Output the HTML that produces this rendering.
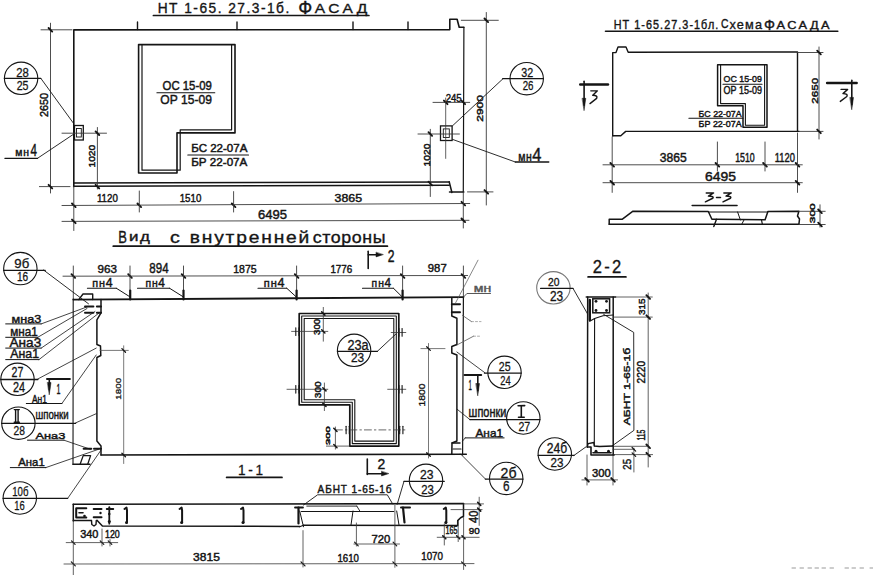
<!DOCTYPE html>
<html><head><meta charset="utf-8"><style>
html,body{margin:0;padding:0;background:#fff;}
body{width:873px;height:575px;overflow:hidden;}
svg{display:block;font-family:"Liberation Sans",sans-serif;}
</style></head><body>
<svg width="873" height="575" viewBox="0 0 873 575" stroke-linecap="round">
<rect width="873" height="575" fill="#fff"/>
<text x="157.7" y="13.2" font-size="13.91" textLength="133.03" lengthAdjust="spacingAndGlyphs" fill="#151515" font-weight="normal" stroke="#151515" stroke-width="0.35" letter-spacing="1.5">НТ 1-65. 27.3-1б.</text>
<text x="298.2" y="14.4" font-size="18.7" textLength="14.01" lengthAdjust="spacingAndGlyphs" fill="#151515" font-weight="normal" stroke="#151515" stroke-width="0.35">Ф</text>
<text x="314.7" y="13.4" font-size="13.48" textLength="56.1" lengthAdjust="spacingAndGlyphs" fill="#151515" font-weight="normal" stroke="#151515" stroke-width="0.35" letter-spacing="3">АСАД</text>
<line x1="153.4" y1="15.5" x2="368.9" y2="15.5" stroke="#151515" stroke-width="1.7"/>
<polyline points="73.8,186.6 73.8,29.9 449.8,29.6 449.8,19.3 457.1,19.3 459.2,27.3 463.9,27.3" fill="none" stroke="#151515" stroke-width="1.6" stroke-linejoin="round"/>
<line x1="463.9" y1="27.3" x2="463.3" y2="191.9" stroke="#151515" stroke-width="1.2"/>
<line x1="73.6" y1="183" x2="449.2" y2="181.9" stroke="#151515" stroke-width="1.5"/>
<line x1="73.6" y1="186.3" x2="449.2" y2="185.2" stroke="#151515" stroke-width="1.5"/>
<polyline points="449.2,181.7 451.9,192.5" fill="none" stroke="#151515" stroke-width="1.5" stroke-linejoin="round"/>
<line x1="449.5" y1="191.9" x2="463.8" y2="191.9" stroke="#151515" stroke-width="1.5"/>
<line x1="137.5" y1="22" x2="137.5" y2="29.5" stroke="#151515" stroke-width="1.4"/>
<line x1="237" y1="22" x2="237" y2="29.5" stroke="#151515" stroke-width="1.4"/>
<line x1="353" y1="22" x2="353" y2="29.5" stroke="#151515" stroke-width="1.4"/>
<line x1="408" y1="22" x2="408" y2="29.5" stroke="#151515" stroke-width="1.4"/>
<polygon points="138.6,44.6 235,44.6 235,132.9 177,132.9 177,173 138.6,173" fill="none" stroke="#151515" stroke-width="1.6" stroke-linejoin="round"/>
<polyline points="142,44.6 142,170.2 180.2,170.2 180.2,129.8 231.6,129.8 231.6,44.6" fill="none" stroke="#151515" stroke-width="1.2" stroke-linejoin="round"/>
<text x="162.6" y="89.68" font-size="11.97" textLength="49.24" lengthAdjust="spacingAndGlyphs" fill="#151515" font-weight="normal" stroke="#151515" stroke-width="0.45">ОС 15-09</text>
<line x1="156.9" y1="92.8" x2="214.8" y2="92.8" stroke="#151515" stroke-width="1.1"/>
<text x="160.3" y="104.37" font-size="12.68" textLength="51.6" lengthAdjust="spacingAndGlyphs" fill="#151515" font-weight="normal" stroke="#151515" stroke-width="0.45">ОР 15-09</text>
<text x="191.2" y="152.09" font-size="10.56" textLength="56.19" lengthAdjust="spacingAndGlyphs" fill="#151515" font-weight="normal" stroke="#151515" stroke-width="0.45">БС 22-07А</text>
<line x1="187.8" y1="155" x2="248.5" y2="155" stroke="#151515" stroke-width="1.1"/>
<text x="191.2" y="165.89" font-size="10.7" textLength="56.15" lengthAdjust="spacingAndGlyphs" fill="#151515" font-weight="normal" stroke="#151515" stroke-width="0.45">БР 22-07А</text>
<rect x="74.5" y="125.5" width="8.8" height="14.5" fill="none" stroke="#151515" stroke-width="1.3"/>
<rect x="76.5" y="128.5" width="4.8" height="8.5" fill="none" stroke="#151515" stroke-width="0.9"/>
<rect x="440.5" y="125.9" width="11.6" height="14.6" fill="none" stroke="#151515" stroke-width="1.3"/>
<rect x="443.3" y="128.9" width="6" height="8.6" fill="none" stroke="#151515" stroke-width="0.9"/>
<line x1="50.5" y1="23.2" x2="50.5" y2="193" stroke="#3a3a3a" stroke-width="0.9"/>
<line x1="41" y1="29.8" x2="72" y2="29.8" stroke="#3a3a3a" stroke-width="0.9"/>
<line x1="39.4" y1="186.6" x2="70" y2="186.6" stroke="#3a3a3a" stroke-width="0.9"/>
<line x1="48.6" y1="28" x2="52.2" y2="31.6" stroke="#151515" stroke-width="1.9"/>
<line x1="48.6" y1="184.8" x2="52.2" y2="188.4" stroke="#151515" stroke-width="1.9"/>
<text transform="translate(47.89 117) rotate(-90)" x="-0" y="0" font-size="10.56" textLength="24.05" lengthAdjust="spacingAndGlyphs" fill="#151515" font-weight="normal" stroke="#151515" stroke-width="0.45">2650</text>
<ellipse cx="21.1" cy="78.3" rx="16.7" ry="16.2" fill="none" stroke="#151515" stroke-width="1.1"/>
<line x1="4.4" y1="78.4" x2="40.7" y2="78.4" stroke="#151515" stroke-width="1.3"/>
<text x="16.3" y="76.67" font-size="12.82" textLength="12.62" lengthAdjust="spacingAndGlyphs" fill="#151515" font-weight="normal" stroke="#151515" stroke-width="0.3">28</text>
<text x="16.7" y="89.88" font-size="12.25" textLength="11.82" lengthAdjust="spacingAndGlyphs" fill="#151515" font-weight="normal" stroke="#151515" stroke-width="0.3">25</text>
<line x1="40.8" y1="78.3" x2="73.3" y2="123" stroke="#151515" stroke-width="0.9"/>
<text x="15.2" y="155.8" font-size="10.38" textLength="14.5" lengthAdjust="spacingAndGlyphs" fill="#151515" font-weight="normal" stroke="#151515" stroke-width="0.45" letter-spacing="0.8">мн</text>
<text x="30.4" y="156.3" font-size="16.52" textLength="6.45" lengthAdjust="spacingAndGlyphs" fill="#151515" font-weight="normal" stroke="#151515" stroke-width="0.45">4</text>
<line x1="4.9" y1="158.3" x2="37.5" y2="158.3" stroke="#151515" stroke-width="1.3"/>
<line x1="37.5" y1="158.3" x2="73.3" y2="134.4" stroke="#151515" stroke-width="0.9"/>
<line x1="62" y1="133.2" x2="106.5" y2="133.2" stroke="#3a3a3a" stroke-width="0.9"/>
<line x1="97.4" y1="127.5" x2="97.4" y2="189" stroke="#3a3a3a" stroke-width="0.9"/>
<line x1="95.6" y1="131.4" x2="99.2" y2="135" stroke="#151515" stroke-width="1.9"/>
<line x1="95.6" y1="184.8" x2="99.2" y2="188.4" stroke="#151515" stroke-width="1.9"/>
<text transform="translate(94.91 167.6) rotate(-90)" x="-0" y="0" font-size="9.15" textLength="22.95" lengthAdjust="spacingAndGlyphs" fill="#151515" font-weight="normal" stroke="#151515" stroke-width="0.45">1020</text>
<line x1="62" y1="205.5" x2="469.7" y2="203.5" stroke="#3a3a3a" stroke-width="0.9"/>
<line x1="72" y1="203.5" x2="75.6" y2="207.1" stroke="#151515" stroke-width="1.9"/>
<line x1="137.5" y1="203.5" x2="141.1" y2="207.1" stroke="#151515" stroke-width="1.9"/>
<line x1="231.8" y1="203.5" x2="235.4" y2="207.1" stroke="#151515" stroke-width="1.9"/>
<line x1="461.5" y1="201.8" x2="465.1" y2="205.4" stroke="#151515" stroke-width="1.9"/>
<line x1="73.8" y1="186.6" x2="73.8" y2="230.5" stroke="#3a3a3a" stroke-width="0.9"/>
<line x1="139.3" y1="191" x2="139.3" y2="212" stroke="#3a3a3a" stroke-width="0.9"/>
<line x1="233.6" y1="191.6" x2="233.6" y2="212" stroke="#3a3a3a" stroke-width="0.9"/>
<line x1="463.3" y1="191.9" x2="463.3" y2="228" stroke="#3a3a3a" stroke-width="0.9"/>
<text x="96.9" y="201.69" font-size="11.27" textLength="20.9" lengthAdjust="spacingAndGlyphs" fill="#151515" font-weight="normal" stroke="#151515" stroke-width="0.45">1120</text>
<text x="179.7" y="201.69" font-size="11.27" textLength="21.64" lengthAdjust="spacingAndGlyphs" fill="#151515" font-weight="normal" stroke="#151515" stroke-width="0.45">1510</text>
<text x="334.6" y="201.69" font-size="11.27" textLength="27.45" lengthAdjust="spacingAndGlyphs" fill="#151515" font-weight="normal" stroke="#151515" stroke-width="0.45">3865</text>
<line x1="62" y1="221.4" x2="469" y2="220.3" stroke="#3a3a3a" stroke-width="0.9"/>
<line x1="72" y1="219.6" x2="75.6" y2="223.2" stroke="#151515" stroke-width="1.9"/>
<line x1="461.5" y1="218.5" x2="465.1" y2="222.1" stroke="#151515" stroke-width="1.9"/>
<text x="257.9" y="219.17" font-size="12.68" textLength="29.06" lengthAdjust="spacingAndGlyphs" fill="#151515" font-weight="normal" stroke="#151515" stroke-width="0.45">6495</text>
<text x="445.7" y="101.89" font-size="11.27" textLength="15.98" lengthAdjust="spacingAndGlyphs" fill="#151515" font-weight="normal" stroke="#151515" stroke-width="0.45">245</text>
<line x1="433" y1="102.4" x2="469.7" y2="102.4" stroke="#3a3a3a" stroke-width="0.9"/>
<line x1="443.9" y1="100.6" x2="447.5" y2="104.2" stroke="#151515" stroke-width="1.9"/>
<line x1="461.5" y1="100.6" x2="465.1" y2="104.2" stroke="#151515" stroke-width="1.9"/>
<line x1="445.7" y1="98" x2="445.7" y2="158.4" stroke="#3a3a3a" stroke-width="0.8"/>
<line x1="486.3" y1="12.5" x2="486.3" y2="205" stroke="#3a3a3a" stroke-width="0.9"/>
<line x1="461.3" y1="20.3" x2="498.3" y2="20.3" stroke="#3a3a3a" stroke-width="0.9"/>
<line x1="467.5" y1="191.9" x2="493" y2="191.9" stroke="#3a3a3a" stroke-width="0.9"/>
<line x1="484.5" y1="18.5" x2="488.1" y2="22.1" stroke="#151515" stroke-width="1.9"/>
<line x1="484.5" y1="190.1" x2="488.1" y2="193.7" stroke="#151515" stroke-width="1.9"/>
<text transform="translate(483.41 121.8) rotate(-90)" x="-0" y="0" font-size="9.44" textLength="26.85" lengthAdjust="spacingAndGlyphs" fill="#151515" font-weight="normal" stroke="#151515" stroke-width="0.45">2900</text>
<line x1="430.3" y1="129.3" x2="430.3" y2="196.5" stroke="#3a3a3a" stroke-width="0.9"/>
<line x1="418" y1="134" x2="459.4" y2="134" stroke="#3a3a3a" stroke-width="0.9"/>
<line x1="428.5" y1="132.2" x2="432.1" y2="135.8" stroke="#151515" stroke-width="1.9"/>
<line x1="428.5" y1="181.7" x2="432.1" y2="185.3" stroke="#151515" stroke-width="1.9"/>
<text transform="translate(429.61 166.4) rotate(-90)" x="-0" y="0" font-size="9.44" textLength="22.95" lengthAdjust="spacingAndGlyphs" fill="#151515" font-weight="normal" stroke="#151515" stroke-width="0.45">1020</text>
<ellipse cx="526.7" cy="78.7" rx="16.7" ry="16.2" fill="none" stroke="#151515" stroke-width="1.1"/>
<line x1="502.7" y1="78.7" x2="543.4" y2="78.7" stroke="#151515" stroke-width="1.3"/>
<text x="521.3" y="76.67" font-size="12.82" textLength="11.92" lengthAdjust="spacingAndGlyphs" fill="#151515" font-weight="normal" stroke="#151515" stroke-width="0.3">32</text>
<text x="522.7" y="89.88" font-size="12.25" textLength="10.82" lengthAdjust="spacingAndGlyphs" fill="#151515" font-weight="normal" stroke="#151515" stroke-width="0.3">26</text>
<line x1="502.7" y1="79" x2="452.6" y2="125.7" stroke="#151515" stroke-width="0.9"/>
<text x="518.2" y="160.6" font-size="12.45" textLength="14.37" lengthAdjust="spacingAndGlyphs" fill="#151515" font-weight="normal" stroke="#151515" stroke-width="0.45" letter-spacing="0.8">мн</text>
<text x="532.2" y="161.2" font-size="18.7" textLength="9.14" lengthAdjust="spacingAndGlyphs" fill="#151515" font-weight="normal" stroke="#151515" stroke-width="0.45">4</text>
<line x1="452.6" y1="139.4" x2="515.3" y2="162" stroke="#151515" stroke-width="0.9"/>
<line x1="515.3" y1="162" x2="548.8" y2="162" stroke="#151515" stroke-width="1.3"/>
<text x="613.7" y="28.6" font-size="12.17" textLength="105.61" lengthAdjust="spacingAndGlyphs" fill="#151515" font-weight="normal" stroke="#151515" stroke-width="0.4" letter-spacing="1.2">НТ 1-65.27.3-1бл.</text>
<text x="721" y="28.46" font-size="13.66" textLength="7.52" lengthAdjust="spacingAndGlyphs" fill="#151515" font-weight="normal" stroke="#151515" stroke-width="0.4">С</text>
<text x="729.5" y="28.6" font-size="13.4" textLength="33.62" lengthAdjust="spacingAndGlyphs" fill="#151515" font-weight="normal" stroke="#151515" stroke-width="0.35" letter-spacing="1.2">хема</text>
<text x="764" y="29.5" font-size="15.36" textLength="11" lengthAdjust="spacingAndGlyphs" fill="#151515" font-weight="normal" stroke="#151515" stroke-width="0.35">Ф</text>
<text x="776.5" y="28.6" font-size="10.58" textLength="55.41" lengthAdjust="spacingAndGlyphs" fill="#151515" font-weight="normal" stroke="#151515" stroke-width="0.35" letter-spacing="2">АСАДА</text>
<line x1="605.5" y1="31.2" x2="837.8" y2="31.2" stroke="#151515" stroke-width="1.6"/>
<line x1="580.2" y1="84.5" x2="608" y2="84.5" stroke="#151515" stroke-width="2.4"/>
<line x1="584.1" y1="81.3" x2="584.1" y2="105.3" stroke="#151515" stroke-width="1.6"/>
<polygon points="582.4,98.3 585.8,98.3 584.1,110.3" fill="#151515" stroke="#151515" stroke-width="0.5" stroke-linejoin="round"/>
<path d="M590.78,90.84 L597.41,90.84 L592.73,95.32 Q598.19,95.32 596.63,98.4 L590,103.58" fill="none" stroke="#151515" stroke-width="1.4" stroke-linejoin="round"/>
<line x1="827.1" y1="83" x2="856.7" y2="83" stroke="#151515" stroke-width="2.4"/>
<line x1="851.8" y1="80.2" x2="851.8" y2="104.4" stroke="#151515" stroke-width="1.6"/>
<polygon points="850.1,97.4 853.5,97.4 851.8,109.4" fill="#151515" stroke="#151515" stroke-width="0.5" stroke-linejoin="round"/>
<path d="M841.07,89.39 L847.62,89.39 L843,93.62 Q848.38,93.62 846.85,96.52 L840.3,101.4" fill="none" stroke="#151515" stroke-width="1.4" stroke-linejoin="round"/>
<polyline points="612.7,136 612.7,52.6 616,52.6 618,47 626,47 628.2,52.3 797.5,51.9 797.5,131.4" fill="none" stroke="#151515" stroke-width="1.4" stroke-linejoin="round"/>
<polyline points="612.7,135.7 620.8,135.7 625.7,131.4 799,131.4" fill="none" stroke="#151515" stroke-width="1.4" stroke-linejoin="round"/>
<polygon points="717.6,64.7 767,64.7 767,127.3 743,127.3 743,105.8 717.6,105.8" fill="none" stroke="#151515" stroke-width="1.5" stroke-linejoin="round"/>
<polyline points="720.6,64.7 720.6,103.6 745.4,103.6 745.4,125.2 764.6,125.2 764.6,64.7" fill="none" stroke="#151515" stroke-width="1.1" stroke-linejoin="round"/>
<text x="723.6" y="82" font-size="9.72" textLength="38.26" lengthAdjust="spacingAndGlyphs" fill="#151515" font-weight="normal" stroke="#151515" stroke-width="0.45">ОС 15-09</text>
<line x1="723" y1="84.2" x2="762" y2="84.2" stroke="#151515" stroke-width="1.1"/>
<text x="723.6" y="94.49" font-size="10.7" textLength="38.3" lengthAdjust="spacingAndGlyphs" fill="#151515" font-weight="normal" stroke="#151515" stroke-width="0.45">ОР 15-09</text>
<text x="698.6" y="116.8" font-size="9.72" textLength="43.09" lengthAdjust="spacingAndGlyphs" fill="#151515" font-weight="normal" stroke="#151515" stroke-width="0.45">БС 22-07А</text>
<line x1="688.9" y1="118.3" x2="743" y2="118.3" stroke="#151515" stroke-width="1.1"/>
<text x="698.6" y="126.51" font-size="9.44" textLength="43.06" lengthAdjust="spacingAndGlyphs" fill="#151515" font-weight="normal" stroke="#151515" stroke-width="0.45">БР 22-07А</text>
<line x1="819" y1="47" x2="819" y2="139" stroke="#3a3a3a" stroke-width="0.9"/>
<line x1="797.5" y1="52.5" x2="823" y2="52.5" stroke="#3a3a3a" stroke-width="0.9"/>
<line x1="799" y1="131.4" x2="823" y2="131.4" stroke="#3a3a3a" stroke-width="0.9"/>
<line x1="817.2" y1="50.7" x2="820.8" y2="54.3" stroke="#151515" stroke-width="1.9"/>
<line x1="817.2" y1="129.6" x2="820.8" y2="133.2" stroke="#151515" stroke-width="1.9"/>
<text transform="translate(817.5 103.7) rotate(-90)" x="-0" y="0" font-size="9.86" textLength="25.95" lengthAdjust="spacingAndGlyphs" fill="#151515" font-weight="normal" stroke="#151515" stroke-width="0.45">2650</text>
<line x1="603" y1="164.8" x2="802.3" y2="164.8" stroke="#3a3a3a" stroke-width="0.9"/>
<line x1="610.4" y1="163" x2="614" y2="166.6" stroke="#151515" stroke-width="1.9"/>
<line x1="715.6" y1="163" x2="719.2" y2="166.6" stroke="#151515" stroke-width="1.9"/>
<line x1="763.2" y1="163" x2="766.8" y2="166.6" stroke="#151515" stroke-width="1.9"/>
<line x1="795.7" y1="163" x2="799.3" y2="166.6" stroke="#151515" stroke-width="1.9"/>
<line x1="612.2" y1="137" x2="612.2" y2="192.4" stroke="#3a3a3a" stroke-width="0.9"/>
<line x1="717.4" y1="142" x2="717.4" y2="171" stroke="#3a3a3a" stroke-width="0.9"/>
<line x1="765" y1="142" x2="765" y2="171" stroke="#3a3a3a" stroke-width="0.9"/>
<line x1="797.5" y1="133" x2="797.5" y2="192.4" stroke="#3a3a3a" stroke-width="0.9"/>
<text x="659.7" y="162.08" font-size="12.25" textLength="26.95" lengthAdjust="spacingAndGlyphs" fill="#151515" font-weight="normal" stroke="#151515" stroke-width="0.45">3865</text>
<text x="735.2" y="162.08" font-size="12.25" textLength="19.54" lengthAdjust="spacingAndGlyphs" fill="#151515" font-weight="normal" stroke="#151515" stroke-width="0.45">1510</text>
<text x="774.8" y="162.08" font-size="12.25" textLength="20.1" lengthAdjust="spacingAndGlyphs" fill="#151515" font-weight="normal" stroke="#151515" stroke-width="0.45">1120</text>
<line x1="603" y1="182.7" x2="802.3" y2="182.7" stroke="#3a3a3a" stroke-width="0.9"/>
<line x1="610.4" y1="180.9" x2="614" y2="184.5" stroke="#151515" stroke-width="1.9"/>
<line x1="795.7" y1="180.9" x2="799.3" y2="184.5" stroke="#151515" stroke-width="1.9"/>
<text x="705" y="180.87" font-size="12.68" textLength="30.96" lengthAdjust="spacingAndGlyphs" fill="#151515" font-weight="normal" stroke="#151515" stroke-width="0.45">6495</text>
<path d="M706.26,192.98 L713.57,192.98 L708.41,196.09 Q714.43,196.09 712.71,198.22 L705.4,201.81" fill="none" stroke="#151515" stroke-width="1.5" stroke-linejoin="round"/>
<line x1="716.5" y1="197.5" x2="720.5" y2="197.5" stroke="#151515" stroke-width="1.5"/>
<path d="M723.87,192.98 L731.27,192.98 L726.05,196.09 Q732.13,196.09 730.39,198.22 L723,201.81" fill="none" stroke="#151515" stroke-width="1.5" stroke-linejoin="round"/>
<line x1="692.2" y1="205.5" x2="737" y2="205.5" stroke="#151515" stroke-width="1.6"/>
<polyline points="609.2,224.3 609.2,219.2 622.4,219.2 633,211.2 708.3,211.5 711.9,219.3 716.5,219.3 765.1,219.7 767.9,211.5 798.9,211.3 797.5,216 799.5,219 798.9,224.3" fill="none" stroke="#151515" stroke-width="1.5" stroke-linejoin="round"/>
<line x1="609.2" y1="224.3" x2="798.9" y2="224.3" stroke="#151515" stroke-width="1.6"/>
<line x1="708.3" y1="212" x2="767.9" y2="212" stroke="#151515" stroke-width="1"/>
<line x1="737.6" y1="212" x2="740.4" y2="220" stroke="#151515" stroke-width="1"/>
<line x1="716.5" y1="219.3" x2="713.8" y2="226.6" stroke="#151515" stroke-width="1.4"/>
<line x1="744" y1="220" x2="741.7" y2="224.3" stroke="#151515" stroke-width="1"/>
<line x1="761.5" y1="220" x2="762.4" y2="224.3" stroke="#151515" stroke-width="1.2"/>
<text transform="translate(814.63 223.2) rotate(-90)" x="-0" y="0" font-size="7.46" textLength="19.78" lengthAdjust="spacingAndGlyphs" fill="#151515" font-weight="normal" stroke="#151515" stroke-width="0.45">300</text>
<line x1="820" y1="204.8" x2="820" y2="227.1" stroke="#3a3a3a" stroke-width="0.9"/>
<line x1="799" y1="211.3" x2="825.2" y2="211.3" stroke="#3a3a3a" stroke-width="0.9"/>
<line x1="799" y1="224.5" x2="825.2" y2="224.5" stroke="#3a3a3a" stroke-width="0.9"/>
<line x1="818.2" y1="209.5" x2="821.8" y2="213.1" stroke="#151515" stroke-width="1.9"/>
<line x1="818.2" y1="222.7" x2="821.8" y2="226.3" stroke="#151515" stroke-width="1.9"/>
<text x="118.3" y="243.3" font-size="16.96" textLength="8.66" lengthAdjust="spacingAndGlyphs" fill="#151515" font-weight="normal" stroke="#151515" stroke-width="0.35">В</text>
<text x="129" y="240.83" font-size="12.33" textLength="22.58" lengthAdjust="spacingAndGlyphs" fill="#151515" font-weight="normal" stroke="#151515" stroke-width="0.35" letter-spacing="1.2">ид</text>
<text x="170" y="243.14" font-size="16.36" textLength="9.8" lengthAdjust="spacingAndGlyphs" fill="#151515" font-weight="normal" stroke="#151515" stroke-width="0.35">с</text>
<text x="189.7" y="243.3" font-size="16.98" textLength="121.46" lengthAdjust="spacingAndGlyphs" fill="#151515" font-weight="normal" stroke="#151515" stroke-width="0.35" letter-spacing="1.6">внутренней</text>
<text x="312.7" y="243.3" font-size="16.98" textLength="73.56" lengthAdjust="spacingAndGlyphs" fill="#151515" font-weight="normal" stroke="#151515" stroke-width="0.35" letter-spacing="0.6">стороны</text>
<line x1="113.3" y1="246.2" x2="387.4" y2="246.2" stroke="#151515" stroke-width="1.8"/>
<line x1="368.2" y1="251.2" x2="368.2" y2="268.4" stroke="#151515" stroke-width="1.6"/>
<line x1="368.2" y1="254.7" x2="378" y2="254.7" stroke="#151515" stroke-width="1.6"/>
<polygon points="376,252.5 376,256.9 383,254.7" fill="#151515" stroke="#151515" stroke-width="0.5" stroke-linejoin="round"/>
<text x="387.7" y="261.5" font-size="16.43" textLength="6.75" lengthAdjust="spacingAndGlyphs" fill="#151515" font-weight="normal" stroke="#151515" stroke-width="0.45">2</text>
<line x1="63" y1="276.2" x2="467.6" y2="275.5" stroke="#3a3a3a" stroke-width="0.9"/>
<line x1="71.5" y1="274.2" x2="75.1" y2="277.8" stroke="#151515" stroke-width="1.9"/>
<line x1="73.3" y1="266" x2="73.3" y2="298" stroke="#3a3a3a" stroke-width="0.9"/>
<line x1="128.2" y1="274.2" x2="131.8" y2="277.8" stroke="#151515" stroke-width="1.9"/>
<line x1="130" y1="266" x2="130" y2="290" stroke="#3a3a3a" stroke-width="0.9"/>
<line x1="181.7" y1="274.2" x2="185.3" y2="277.8" stroke="#151515" stroke-width="1.9"/>
<line x1="183.5" y1="266" x2="183.5" y2="290" stroke="#3a3a3a" stroke-width="0.9"/>
<line x1="294.8" y1="274.2" x2="298.4" y2="277.8" stroke="#151515" stroke-width="1.9"/>
<line x1="296.6" y1="266" x2="296.6" y2="290" stroke="#3a3a3a" stroke-width="0.9"/>
<line x1="400.8" y1="274.2" x2="404.4" y2="277.8" stroke="#151515" stroke-width="1.9"/>
<line x1="402.6" y1="266" x2="402.6" y2="290" stroke="#3a3a3a" stroke-width="0.9"/>
<line x1="461.6" y1="274.2" x2="465.2" y2="277.8" stroke="#151515" stroke-width="1.9"/>
<line x1="463.4" y1="266" x2="463.4" y2="298" stroke="#3a3a3a" stroke-width="0.9"/>
<text x="97.5" y="273.08" font-size="11.69" textLength="19.48" lengthAdjust="spacingAndGlyphs" fill="#151515" font-weight="normal" stroke="#151515" stroke-width="0.45">963</text>
<text x="149.3" y="273.25" font-size="14.65" textLength="19.28" lengthAdjust="spacingAndGlyphs" fill="#151515" font-weight="normal" stroke="#151515" stroke-width="0.45">894</text>
<text x="233.2" y="273.28" font-size="11.55" textLength="23.45" lengthAdjust="spacingAndGlyphs" fill="#151515" font-weight="normal" stroke="#151515" stroke-width="0.45">1875</text>
<text x="330.4" y="272.69" font-size="10.99" textLength="21.84" lengthAdjust="spacingAndGlyphs" fill="#151515" font-weight="normal" stroke="#151515" stroke-width="0.45">1776</text>
<text x="427.8" y="271.69" font-size="10.99" textLength="18.88" lengthAdjust="spacingAndGlyphs" fill="#151515" font-weight="normal" stroke="#151515" stroke-width="0.45">987</text>
<text x="92.3" y="286.8" font-size="11.13" textLength="13.74" lengthAdjust="spacingAndGlyphs" fill="#151515" font-weight="normal" stroke="#151515" stroke-width="0.45" letter-spacing="1">пн</text>
<text x="105.63" y="286.8" font-size="13.19" textLength="6.82" lengthAdjust="spacingAndGlyphs" fill="#151515" font-weight="normal" stroke="#151515" stroke-width="0.45">4</text>
<line x1="87.4" y1="288.2" x2="116.3" y2="288.2" stroke="#151515" stroke-width="1.1"/>
<line x1="116.3" y1="288.2" x2="129.4" y2="296.5" stroke="#151515" stroke-width="1"/>
<line x1="130.2" y1="290.5" x2="130.2" y2="299.5" stroke="#151515" stroke-width="2.2"/>
<text x="145.5" y="286.8" font-size="11.13" textLength="13.26" lengthAdjust="spacingAndGlyphs" fill="#151515" font-weight="normal" stroke="#151515" stroke-width="0.45" letter-spacing="1">пн</text>
<text x="158.37" y="286.8" font-size="13.19" textLength="6.58" lengthAdjust="spacingAndGlyphs" fill="#151515" font-weight="normal" stroke="#151515" stroke-width="0.45">4</text>
<line x1="137.5" y1="288.2" x2="169.5" y2="288.2" stroke="#151515" stroke-width="1.1"/>
<line x1="169.5" y1="288.2" x2="182.7" y2="296.5" stroke="#151515" stroke-width="1"/>
<line x1="183.5" y1="290.5" x2="183.5" y2="299.5" stroke="#151515" stroke-width="2.2"/>
<text x="263.8" y="286.8" font-size="11.13" textLength="14.01" lengthAdjust="spacingAndGlyphs" fill="#151515" font-weight="normal" stroke="#151515" stroke-width="0.45" letter-spacing="1">пн</text>
<text x="277.4" y="286.8" font-size="13.19" textLength="6.96" lengthAdjust="spacingAndGlyphs" fill="#151515" font-weight="normal" stroke="#151515" stroke-width="0.45">4</text>
<line x1="258" y1="288.2" x2="286.7" y2="288.2" stroke="#151515" stroke-width="1.1"/>
<line x1="286.7" y1="288.2" x2="295.8" y2="296.5" stroke="#151515" stroke-width="1"/>
<line x1="296.6" y1="290.5" x2="296.6" y2="299.5" stroke="#151515" stroke-width="2.2"/>
<text x="371.6" y="286.8" font-size="11.13" textLength="13.19" lengthAdjust="spacingAndGlyphs" fill="#151515" font-weight="normal" stroke="#151515" stroke-width="0.45" letter-spacing="1">пн</text>
<text x="384.4" y="286.8" font-size="13.19" textLength="6.55" lengthAdjust="spacingAndGlyphs" fill="#151515" font-weight="normal" stroke="#151515" stroke-width="0.45">4</text>
<line x1="362.5" y1="288.2" x2="393.4" y2="288.2" stroke="#151515" stroke-width="1.1"/>
<line x1="393.4" y1="288.2" x2="401.8" y2="296.5" stroke="#151515" stroke-width="1"/>
<line x1="402.6" y1="290.5" x2="402.6" y2="299.5" stroke="#151515" stroke-width="2.2"/>
<line x1="73.3" y1="299.6" x2="463.4" y2="297.2" stroke="#151515" stroke-width="1.8"/>
<line x1="73.2" y1="298.5" x2="73" y2="464.5" stroke="#151515" stroke-width="1.1"/>
<polyline points="101,299.6 101,312.8 96.9,319.8 96.9,344.5 100.5,346 100.8,355.5 96.9,357.5 96.9,441 101,445.9 101,455" fill="none" stroke="#151515" stroke-width="1.5" stroke-linejoin="round"/>
<polyline points="78.8,299.6 83,294 92.7,294 92.7,299.6" fill="none" stroke="#151515" stroke-width="1.4" stroke-linejoin="round"/>
<line x1="101" y1="455" x2="466.3" y2="454.2" stroke="#151515" stroke-width="1.6"/>
<line x1="73" y1="464.2" x2="90" y2="464.2" stroke="#151515" stroke-width="1.4"/>
<polyline points="80.2,464 83.2,455.6 90.6,455.6 87.8,464" fill="none" stroke="#151515" stroke-width="1.3" stroke-linejoin="round"/>
<line x1="85" y1="306.6" x2="93.4" y2="306.6" stroke="#151515" stroke-width="2"/>
<line x1="96.9" y1="306.6" x2="101" y2="306.6" stroke="#151515" stroke-width="2"/>
<line x1="85" y1="312.8" x2="93.4" y2="312.8" stroke="#151515" stroke-width="2"/>
<line x1="96.9" y1="312.8" x2="101" y2="312.8" stroke="#151515" stroke-width="2"/>
<line x1="83.6" y1="448.7" x2="91.3" y2="448.7" stroke="#151515" stroke-width="2"/>
<line x1="94" y1="448.7" x2="101" y2="448.7" stroke="#151515" stroke-width="2"/>
<line x1="463.4" y1="297.2" x2="462.6" y2="455" stroke="#151515" stroke-width="1.2"/>
<polyline points="451.8,298 451.8,316 456.9,318.2 456.9,344.5 451.8,346.5 451.8,353 456.9,355 456.9,441 452,443 451.8,454" fill="none" stroke="#151515" stroke-width="1.5" stroke-linejoin="round"/>
<line x1="451.8" y1="304.2" x2="460" y2="304.2" stroke="#151515" stroke-width="2"/>
<line x1="451.8" y1="312.3" x2="460" y2="312.3" stroke="#151515" stroke-width="2"/>
<line x1="452" y1="443" x2="460" y2="443" stroke="#151515" stroke-width="1.4"/>
<line x1="453" y1="449" x2="461" y2="449" stroke="#151515" stroke-width="1.2"/>
<text x="473.8" y="292.2" font-size="10.75" textLength="17.4" lengthAdjust="spacingAndGlyphs" fill="#555" font-weight="normal" stroke="#555" stroke-width="0.45">мн</text>
<polyline points="463.4,297.2 466.9,293.5 490.5,293.5" fill="none" stroke="#444" stroke-width="0.9" stroke-linejoin="round"/>
<line x1="455.7" y1="302.6" x2="478" y2="260.2" stroke="#555" stroke-width="0.7"/>
<line x1="462.4" y1="315.3" x2="471.5" y2="321.6" stroke="#555" stroke-width="0.8"/>
<line x1="471.5" y1="321.6" x2="481" y2="321.6" stroke="#888" stroke-width="0.7" stroke-dasharray="2 2"/>
<line x1="456.9" y1="345" x2="473.5" y2="336.2" stroke="#555" stroke-width="0.8"/>
<line x1="473.5" y1="336.2" x2="481" y2="336.2" stroke="#888" stroke-width="0.7" stroke-dasharray="2 2"/>
<polygon points="299.2,313.5 398.8,313.5 398.8,446.1 349.8,446.1 349.8,404.8 299.2,404.8" fill="none" stroke="#151515" stroke-width="1.7" stroke-linejoin="round"/>
<polygon points="301.7,316 396.3,316 396.3,443.6 352.3,443.6 352.3,402.3 301.7,402.3" fill="none" stroke="#151515" stroke-width="1.1" stroke-linejoin="round"/>
<polygon points="304.2,318.5 393.8,318.5 393.8,441.1 354.8,441.1 354.8,399.8 304.2,399.8" fill="none" stroke="#151515" stroke-width="1.1" stroke-linejoin="round"/>
<ellipse cx="354.1" cy="350.3" rx="16.7" ry="16.2" fill="none" stroke="#151515" stroke-width="1.1"/>
<line x1="337.4" y1="351.4" x2="377.3" y2="351.4" stroke="#151515" stroke-width="1.3"/>
<text x="347.4" y="350.2" font-size="14.43" textLength="21.18" lengthAdjust="spacingAndGlyphs" fill="#151515" font-weight="normal" stroke="#151515" stroke-width="0.3">23а</text>
<text x="350.9" y="362.17" font-size="13.1" textLength="13.23" lengthAdjust="spacingAndGlyphs" fill="#151515" font-weight="normal" stroke="#151515" stroke-width="0.3">23</text>
<line x1="377.3" y1="351.4" x2="395.7" y2="334.2" stroke="#151515" stroke-width="0.9"/>
<line x1="291.6" y1="331.4" x2="327.8" y2="331.4" stroke="#3a3a3a" stroke-width="0.8"/>
<line x1="287" y1="389.3" x2="327.8" y2="389.3" stroke="#3a3a3a" stroke-width="0.8"/>
<line x1="391.2" y1="332.5" x2="405.8" y2="332.5" stroke="#3a3a3a" stroke-width="0.8"/>
<line x1="387.7" y1="389.3" x2="405.8" y2="389.3" stroke="#3a3a3a" stroke-width="0.8"/>
<line x1="335.4" y1="429.9" x2="405.5" y2="429.9" stroke="#444" stroke-width="0.8" stroke-dasharray="7 3 1.5 3"/>
<line x1="295.8" y1="327.8" x2="295.8" y2="335.4" stroke="#151515" stroke-width="1.1"/>
<line x1="299" y1="327.8" x2="299" y2="335.4" stroke="#151515" stroke-width="1.1"/>
<line x1="295.8" y1="385.5" x2="295.8" y2="393.1" stroke="#151515" stroke-width="1.1"/>
<line x1="299" y1="385.5" x2="299" y2="393.1" stroke="#151515" stroke-width="1.1"/>
<line x1="398.9" y1="328.6" x2="398.9" y2="336.2" stroke="#151515" stroke-width="1.1"/>
<line x1="402.1" y1="328.6" x2="402.1" y2="336.2" stroke="#151515" stroke-width="1.1"/>
<line x1="398.9" y1="385.5" x2="398.9" y2="393.1" stroke="#151515" stroke-width="1.1"/>
<line x1="402.1" y1="385.5" x2="402.1" y2="393.1" stroke="#151515" stroke-width="1.1"/>
<line x1="346.1" y1="426.2" x2="346.1" y2="433.8" stroke="#151515" stroke-width="1.1"/>
<line x1="349.3" y1="426.2" x2="349.3" y2="433.8" stroke="#151515" stroke-width="1.1"/>
<line x1="399.7" y1="426.2" x2="399.7" y2="433.8" stroke="#151515" stroke-width="1.1"/>
<line x1="402.9" y1="426.2" x2="402.9" y2="433.8" stroke="#151515" stroke-width="1.1"/>
<line x1="323.3" y1="307.4" x2="323.3" y2="341.2" stroke="#3a3a3a" stroke-width="0.8"/>
<line x1="324.4" y1="383" x2="324.4" y2="410.6" stroke="#3a3a3a" stroke-width="0.8"/>
<line x1="335.4" y1="427" x2="335.4" y2="449.1" stroke="#3a3a3a" stroke-width="0.8"/>
<line x1="326.4" y1="446.1" x2="349.8" y2="446.1" stroke="#3a3a3a" stroke-width="0.8"/>
<line x1="321.7" y1="311.9" x2="324.9" y2="315.1" stroke="#151515" stroke-width="1.5"/>
<line x1="321.7" y1="329.8" x2="324.9" y2="333" stroke="#151515" stroke-width="1.5"/>
<line x1="322.8" y1="387.7" x2="326" y2="390.9" stroke="#151515" stroke-width="1.5"/>
<line x1="322.8" y1="403.2" x2="326" y2="406.4" stroke="#151515" stroke-width="1.5"/>
<line x1="333.8" y1="428.3" x2="337" y2="431.5" stroke="#151515" stroke-width="1.5"/>
<line x1="333.8" y1="444.5" x2="337" y2="447.7" stroke="#151515" stroke-width="1.5"/>
<text transform="translate(320.01 334.9) rotate(-90)" x="-0" y="0" font-size="8.73" textLength="15.98" lengthAdjust="spacingAndGlyphs" fill="#151515" font-weight="normal" stroke="#151515" stroke-width="0.45">300</text>
<text transform="translate(320.91 398.2) rotate(-90)" x="-0" y="0" font-size="8.87" textLength="16.88" lengthAdjust="spacingAndGlyphs" fill="#151515" font-weight="normal" stroke="#151515" stroke-width="0.45">300</text>
<text transform="translate(330.44 445) rotate(-90)" x="-0" y="0" font-size="5.77" textLength="18.58" lengthAdjust="spacingAndGlyphs" fill="#151515" font-weight="normal" stroke="#151515" stroke-width="0.45">300</text>
<line x1="123.7" y1="345.8" x2="123.7" y2="463.5" stroke="#555" stroke-width="0.8"/>
<line x1="100" y1="350.4" x2="128.3" y2="350.4" stroke="#555" stroke-width="0.8"/>
<line x1="121.9" y1="348.6" x2="125.5" y2="352.2" stroke="#151515" stroke-width="1.3"/>
<line x1="121.9" y1="453.2" x2="125.5" y2="456.8" stroke="#151515" stroke-width="1.3"/>
<text transform="translate(121.32 399.7) rotate(-90)" x="-0" y="0" font-size="8.03" textLength="21.84" lengthAdjust="spacingAndGlyphs" fill="#151515" font-weight="normal" stroke="#151515" stroke-width="0.3">1800</text>
<line x1="428.5" y1="343.5" x2="428.5" y2="458" stroke="#555" stroke-width="0.8"/>
<line x1="420.9" y1="348.6" x2="445" y2="348.6" stroke="#555" stroke-width="0.8"/>
<line x1="426.7" y1="346.8" x2="430.3" y2="350.4" stroke="#151515" stroke-width="1.3"/>
<line x1="426.7" y1="452.7" x2="430.3" y2="456.3" stroke="#151515" stroke-width="1.3"/>
<text transform="translate(425.42 406.5) rotate(-90)" x="-0" y="0" font-size="8.17" textLength="22.95" lengthAdjust="spacingAndGlyphs" fill="#151515" font-weight="normal" stroke="#151515" stroke-width="0.3">1800</text>
<ellipse cx="20.35" cy="268.6" rx="16.7" ry="16.2" fill="none" stroke="#151515" stroke-width="1.1"/>
<line x1="3.65" y1="270.4" x2="45.2" y2="270.4" stroke="#151515" stroke-width="1.3"/>
<text x="14.3" y="267.56" font-size="13.66" textLength="14.89" lengthAdjust="spacingAndGlyphs" fill="#151515" font-weight="normal" stroke="#151515" stroke-width="0.3">9б</text>
<text x="17" y="281.17" font-size="12.68" textLength="11.22" lengthAdjust="spacingAndGlyphs" fill="#151515" font-weight="normal" stroke="#151515" stroke-width="0.3">16</text>
<line x1="43.5" y1="270" x2="88.5" y2="303.8" stroke="#151515" stroke-width="0.9"/>
<text x="11.5" y="322.89" font-size="11.41" textLength="29.72" lengthAdjust="spacingAndGlyphs" fill="#151515" font-weight="normal" stroke="#151515" stroke-width="0.45">мна3</text>
<line x1="5.7" y1="323.9" x2="41.2" y2="323.9" stroke="#151515" stroke-width="1"/>
<line x1="41.2" y1="323.9" x2="87" y2="306.9" stroke="#151515" stroke-width="0.8"/>
<text x="10.3" y="336.47" font-size="13" textLength="27.52" lengthAdjust="spacingAndGlyphs" fill="#151515" font-weight="normal" stroke="#151515" stroke-width="0.45">мна1</text>
<line x1="5.7" y1="337.3" x2="37.8" y2="337.3" stroke="#151515" stroke-width="1"/>
<line x1="37.8" y1="337.3" x2="87" y2="308.5" stroke="#151515" stroke-width="0.8"/>
<text x="9.5" y="346.87" font-size="12.96" textLength="31.72" lengthAdjust="spacingAndGlyphs" fill="#151515" font-weight="normal" stroke="#151515" stroke-width="0.45">Ана3</text>
<line x1="5.7" y1="348.1" x2="41.2" y2="348.1" stroke="#151515" stroke-width="1"/>
<line x1="41.2" y1="348.1" x2="95" y2="311.5" stroke="#151515" stroke-width="0.8"/>
<text x="10.3" y="358.27" font-size="13" textLength="28.72" lengthAdjust="spacingAndGlyphs" fill="#151515" font-weight="normal" stroke="#151515" stroke-width="0.45">Ана1</text>
<line x1="5.7" y1="359.6" x2="39" y2="359.6" stroke="#151515" stroke-width="1"/>
<line x1="39" y1="359.6" x2="99" y2="313" stroke="#151515" stroke-width="0.8"/>
<ellipse cx="17.5" cy="379.3" rx="16.7" ry="16.2" fill="none" stroke="#151515" stroke-width="1.1"/>
<line x1="0.8" y1="379.5" x2="37.9" y2="379.5" stroke="#151515" stroke-width="1.3"/>
<text x="11.5" y="377" font-size="13.86" textLength="11.82" lengthAdjust="spacingAndGlyphs" fill="#151515" font-weight="normal" stroke="#151515" stroke-width="0.3">27</text>
<text x="12.9" y="391.6" font-size="14.29" textLength="12.12" lengthAdjust="spacingAndGlyphs" fill="#151515" font-weight="normal" stroke="#151515" stroke-width="0.3">24</text>
<line x1="37.8" y1="379" x2="96.2" y2="348.1" stroke="#151515" stroke-width="0.8"/>
<line x1="47" y1="379" x2="69.9" y2="379" stroke="#151515" stroke-width="2"/>
<line x1="49.3" y1="379" x2="49.3" y2="389.5" stroke="#151515" stroke-width="1.6"/>
<polygon points="47.6,382.5 51,382.5 49.3,394.5" fill="#151515" stroke="#151515" stroke-width="0.5" stroke-linejoin="round"/>
<text x="56.5" y="394" font-size="15.07" textLength="3.97" lengthAdjust="spacingAndGlyphs" fill="#151515" font-weight="normal" stroke="#151515" stroke-width="0.45">1</text>
<text x="32" y="403" font-size="11.59" textLength="14.96" lengthAdjust="spacingAndGlyphs" fill="#151515" font-weight="normal" stroke="#151515" stroke-width="0.45">Ан1</text>
<line x1="26.3" y1="403.5" x2="61.9" y2="403.5" stroke="#151515" stroke-width="1"/>
<line x1="61.9" y1="403.5" x2="96.2" y2="355" stroke="#151515" stroke-width="0.8"/>
<ellipse cx="18.4" cy="423.2" rx="16.7" ry="16.2" fill="none" stroke="#151515" stroke-width="1.1"/>
<line x1="1.7" y1="423.4" x2="75.6" y2="423.4" stroke="#151515" stroke-width="1.3"/>
<text x="13.6" y="435.17" font-size="13.1" textLength="11.42" lengthAdjust="spacingAndGlyphs" fill="#151515" font-weight="normal" stroke="#151515" stroke-width="0.3">28</text>
<line x1="14.3" y1="409.6" x2="19.3" y2="409.6" stroke="#151515" stroke-width="1.4"/>
<line x1="14.3" y1="422.2" x2="19.3" y2="422.2" stroke="#151515" stroke-width="1.6"/>
<line x1="15.6" y1="409.6" x2="15.6" y2="422.2" stroke="#151515" stroke-width="1.4"/>
<line x1="18.1" y1="409.6" x2="18.1" y2="422.2" stroke="#151515" stroke-width="1.4"/>
<line x1="75.6" y1="422.9" x2="96.2" y2="413.7" stroke="#151515" stroke-width="0.8"/>
<text x="35.5" y="419.37" font-size="12.55" textLength="33.18" lengthAdjust="spacingAndGlyphs" fill="#151515" font-weight="normal" stroke="#151515" stroke-width="0.45">шпонки</text>
<text x="35.5" y="438.9" font-size="9.86" textLength="29.82" lengthAdjust="spacingAndGlyphs" fill="#151515" font-weight="normal" stroke="#151515" stroke-width="0.45">Ана3</text>
<line x1="27.5" y1="440.2" x2="64" y2="440.2" stroke="#151515" stroke-width="1"/>
<line x1="64" y1="440.2" x2="90.5" y2="449.3" stroke="#151515" stroke-width="0.8"/>
<text x="18.3" y="466.29" font-size="11.43" textLength="26.42" lengthAdjust="spacingAndGlyphs" fill="#151515" font-weight="normal" stroke="#151515" stroke-width="0.45">Ана1</text>
<line x1="10.3" y1="467.6" x2="45.8" y2="467.6" stroke="#151515" stroke-width="1"/>
<line x1="45.8" y1="467.6" x2="98.5" y2="449.3" stroke="#151515" stroke-width="0.8"/>
<ellipse cx="19.8" cy="498" rx="16.7" ry="16.2" fill="none" stroke="#151515" stroke-width="1.1"/>
<line x1="3.1" y1="498.4" x2="67.6" y2="498.4" stroke="#151515" stroke-width="1.3"/>
<text x="12.2" y="495.7" font-size="13.62" textLength="16.25" lengthAdjust="spacingAndGlyphs" fill="#151515" font-weight="normal" stroke="#151515" stroke-width="0.3">10б</text>
<text x="14.3" y="509.86" font-size="13.66" textLength="10.42" lengthAdjust="spacingAndGlyphs" fill="#151515" font-weight="normal" stroke="#151515" stroke-width="0.3">16</text>
<line x1="67.6" y1="498.5" x2="100.8" y2="450.4" stroke="#151515" stroke-width="0.8"/>
<ellipse cx="504.5" cy="372.3" rx="16.7" ry="16.2" fill="none" stroke="#151515" stroke-width="1.1"/>
<line x1="484.5" y1="373.2" x2="521.2" y2="373.2" stroke="#151515" stroke-width="1.3"/>
<text x="498.8" y="370.68" font-size="12.25" textLength="11.82" lengthAdjust="spacingAndGlyphs" fill="#151515" font-weight="normal" stroke="#151515" stroke-width="0.3">25</text>
<text x="500.2" y="384.7" font-size="13.43" textLength="10.42" lengthAdjust="spacingAndGlyphs" fill="#151515" font-weight="normal" stroke="#151515" stroke-width="0.3">24</text>
<line x1="484.7" y1="372.6" x2="456.9" y2="352" stroke="#151515" stroke-width="0.8"/>
<line x1="464.5" y1="375.1" x2="481.2" y2="375.1" stroke="#151515" stroke-width="2"/>
<line x1="477.8" y1="375" x2="477.8" y2="390.5" stroke="#151515" stroke-width="1.6"/>
<polygon points="476.1,383.5 479.5,383.5 477.8,395.5" fill="#151515" stroke="#151515" stroke-width="0.5" stroke-linejoin="round"/>
<text x="468.6" y="389.8" font-size="14.93" textLength="3.38" lengthAdjust="spacingAndGlyphs" fill="#151515" font-weight="normal" stroke="#151515" stroke-width="0.45">1</text>
<ellipse cx="523.3" cy="418" rx="16.7" ry="16.2" fill="none" stroke="#151515" stroke-width="1.1"/>
<line x1="469.8" y1="419.6" x2="540" y2="419.6" stroke="#151515" stroke-width="1.3"/>
<text x="518.4" y="431" font-size="13.43" textLength="11.82" lengthAdjust="spacingAndGlyphs" fill="#151515" font-weight="normal" stroke="#151515" stroke-width="0.3">27</text>
<line x1="518.1" y1="405.8" x2="524.7" y2="405.6" stroke="#151515" stroke-width="1.6"/>
<line x1="521.3" y1="405.8" x2="521.3" y2="417" stroke="#151515" stroke-width="1.6"/>
<line x1="518.5" y1="417.3" x2="524.2" y2="417.3" stroke="#151515" stroke-width="1.6"/>
<line x1="469.8" y1="419.5" x2="457.2" y2="409.3" stroke="#151515" stroke-width="0.8"/>
<text x="468.6" y="417.16" font-size="14" textLength="37.78" lengthAdjust="spacingAndGlyphs" fill="#151515" font-weight="normal" stroke="#151515" stroke-width="0.45">шпонки</text>
<text x="475.5" y="436.59" font-size="11.43" textLength="27.52" lengthAdjust="spacingAndGlyphs" fill="#151515" font-weight="normal" stroke="#151515" stroke-width="0.45">Ана1</text>
<line x1="465.2" y1="437.9" x2="504.1" y2="437.9" stroke="#151515" stroke-width="1"/>
<line x1="465.2" y1="437.9" x2="462.6" y2="441" stroke="#151515" stroke-width="0.8"/>
<ellipse cx="506.2" cy="478.4" rx="16.7" ry="16.2" fill="none" stroke="#151515" stroke-width="1.1"/>
<line x1="485.4" y1="479.2" x2="522.9" y2="479.2" stroke="#151515" stroke-width="1.3"/>
<text x="500.6" y="478.2" font-size="14.57" textLength="15.98" lengthAdjust="spacingAndGlyphs" fill="#151515" font-weight="normal" stroke="#151515" stroke-width="0.3">2б</text>
<text x="503.1" y="491.25" font-size="14.65" textLength="6.55" lengthAdjust="spacingAndGlyphs" fill="#151515" font-weight="normal" stroke="#151515" stroke-width="0.3">6</text>
<line x1="485.4" y1="479" x2="460.6" y2="454" stroke="#151515" stroke-width="0.8"/>
<text x="592.7" y="273.2" font-size="18" textLength="30.82" lengthAdjust="spacingAndGlyphs" fill="#151515" font-weight="normal" stroke="#151515" stroke-width="0.35" letter-spacing="2.5">2-2</text>
<line x1="588.1" y1="276.9" x2="625.9" y2="276.9" stroke="#151515" stroke-width="1.8"/>
<ellipse cx="553.4" cy="287.8" rx="16.7" ry="16.2" fill="none" stroke="#777" stroke-width="1.1"/>
<line x1="540.6" y1="288.4" x2="573" y2="288.4" stroke="#151515" stroke-width="1.3"/>
<text x="548" y="285.6" font-size="10.28" textLength="11.42" lengthAdjust="spacingAndGlyphs" fill="#151515" font-weight="normal" stroke="#151515" stroke-width="0.3">20</text>
<text x="550" y="300.55" font-size="14.65" textLength="13.23" lengthAdjust="spacingAndGlyphs" fill="#151515" font-weight="normal" stroke="#151515" stroke-width="0.3">23</text>
<line x1="573" y1="288.4" x2="587.5" y2="313.8" stroke="#151515" stroke-width="0.9"/>
<line x1="586.3" y1="297" x2="615.5" y2="297" stroke="#151515" stroke-width="1.6"/>
<line x1="587.7" y1="297" x2="587.3" y2="447" stroke="#151515" stroke-width="1.5"/>
<line x1="613.2" y1="297" x2="613.2" y2="455" stroke="#151515" stroke-width="1.5"/>
<line x1="589.8" y1="300" x2="589.8" y2="320" stroke="#151515" stroke-width="2.4"/>
<rect x="592.8" y="298.8" width="16.8" height="14" fill="none" stroke="#151515" stroke-width="1.5"/>
<circle cx="596" cy="301.3" r="1.4" fill="#151515"/>
<circle cx="606.5" cy="301.3" r="1.4" fill="#151515"/>
<circle cx="596" cy="310.5" r="1.4" fill="#151515"/>
<circle cx="606.5" cy="310.5" r="1.4" fill="#151515"/>
<polyline points="589.7,321.3 594.6,318.5 603,315.7 613.2,315" fill="none" stroke="#151515" stroke-width="1.1" stroke-linejoin="round"/>
<line x1="594.6" y1="318.5" x2="594.3" y2="446" stroke="#151515" stroke-width="1.1"/>
<line x1="613.2" y1="317.1" x2="652.3" y2="317.1" stroke="#3a3a3a" stroke-width="0.8"/>
<line x1="615.5" y1="297" x2="652.3" y2="297" stroke="#3a3a3a" stroke-width="0.8"/>
<line x1="648.2" y1="293" x2="648.2" y2="467" stroke="#3a3a3a" stroke-width="0.8"/>
<line x1="646.4" y1="295.2" x2="650" y2="298.8" stroke="#151515" stroke-width="1.9"/>
<line x1="646.4" y1="315.3" x2="650" y2="318.9" stroke="#151515" stroke-width="1.9"/>
<line x1="646.4" y1="444.5" x2="650" y2="448.1" stroke="#151515" stroke-width="1.9"/>
<line x1="646.4" y1="452.8" x2="650" y2="456.4" stroke="#151515" stroke-width="1.9"/>
<text transform="translate(645.3 315) rotate(-90)" x="-0" y="0" font-size="9.86" textLength="16.68" lengthAdjust="spacingAndGlyphs" fill="#151515" font-weight="normal" stroke="#151515" stroke-width="0.45">315</text>
<text transform="translate(645.49 383.5) rotate(-90)" x="-0" y="0" font-size="10.85" textLength="22.64" lengthAdjust="spacingAndGlyphs" fill="#151515" font-weight="normal" stroke="#151515" stroke-width="0.45">2220</text>
<text transform="translate(645.3 440.5) rotate(-90)" x="-0" y="0" font-size="10" textLength="10.93" lengthAdjust="spacingAndGlyphs" fill="#151515" font-weight="normal" stroke="#151515" stroke-width="0.45">115</text>
<line x1="613" y1="446.3" x2="648" y2="446.3" stroke="#3a3a3a" stroke-width="0.8"/>
<line x1="613" y1="449.3" x2="634.5" y2="449.3" stroke="#3a3a3a" stroke-width="0.8"/>
<line x1="613" y1="454.6" x2="652.6" y2="454.6" stroke="#3a3a3a" stroke-width="0.8"/>
<line x1="633.9" y1="448.2" x2="633.9" y2="472" stroke="#3a3a3a" stroke-width="0.8"/>
<line x1="632.1" y1="447.5" x2="635.7" y2="451.1" stroke="#151515" stroke-width="1.2"/>
<line x1="632.1" y1="452.8" x2="635.7" y2="456.4" stroke="#151515" stroke-width="1.2"/>
<text transform="translate(631.49 469.7) rotate(-90)" x="-0" y="0" font-size="11.13" textLength="10.72" lengthAdjust="spacingAndGlyphs" fill="#151515" font-weight="normal" stroke="#151515" stroke-width="0.45">25</text>
<polyline points="603.6,314.3 633.7,332.4 633.9,430.4 612,446" fill="none" stroke="#151515" stroke-width="0.9" stroke-linejoin="round"/>
<text transform="translate(630.31 425.2) rotate(-90)" x="-0" y="0" font-size="9.32" textLength="77.37" lengthAdjust="spacingAndGlyphs" fill="#151515" font-weight="normal" stroke="#151515" stroke-width="0.45">АБНТ 1-65-1б</text>
<polyline points="587.3,447 588.1,443.7 593.8,442.5 594.3,446 599.4,446.5 613,446" fill="none" stroke="#151515" stroke-width="1.3" stroke-linejoin="round"/>
<polyline points="587.3,447 591,447 591,455 614.1,455" fill="none" stroke="#151515" stroke-width="1.6" stroke-linejoin="round"/>
<line x1="593" y1="452.7" x2="611" y2="452.7" stroke="#151515" stroke-width="1.6"/>
<circle cx="596" cy="451.2" r="1.5" fill="#151515"/>
<circle cx="608.5" cy="451.2" r="1.5" fill="#151515"/>
<ellipse cx="554.8" cy="454" rx="16.7" ry="16.2" fill="none" stroke="#151515" stroke-width="1.1"/>
<line x1="538.1" y1="455.4" x2="574" y2="455.4" stroke="#151515" stroke-width="1.3"/>
<text x="546.8" y="453.1" font-size="13.86" textLength="20.44" lengthAdjust="spacingAndGlyphs" fill="#151515" font-weight="normal" stroke="#151515" stroke-width="0.3">24б</text>
<text x="550.6" y="466.57" font-size="13.24" textLength="12.93" lengthAdjust="spacingAndGlyphs" fill="#151515" font-weight="normal" stroke="#151515" stroke-width="0.3">23</text>
<line x1="574" y1="455.4" x2="585.8" y2="447" stroke="#151515" stroke-width="0.9"/>
<text x="592" y="476.9" font-size="10.28" textLength="18.68" lengthAdjust="spacingAndGlyphs" fill="#151515" font-weight="normal" stroke="#151515" stroke-width="0.45">300</text>
<line x1="581.9" y1="479.9" x2="617.5" y2="479.9" stroke="#3a3a3a" stroke-width="0.8"/>
<line x1="587" y1="455" x2="587" y2="485" stroke="#3a3a3a" stroke-width="0.8"/>
<line x1="613" y1="455" x2="613" y2="485" stroke="#3a3a3a" stroke-width="0.8"/>
<line x1="585.2" y1="478.1" x2="588.8" y2="481.7" stroke="#151515" stroke-width="1.9"/>
<line x1="611.2" y1="478.1" x2="614.8" y2="481.7" stroke="#151515" stroke-width="1.9"/>
<text x="238" y="475.2" font-size="14.78" textLength="27.89" lengthAdjust="spacingAndGlyphs" fill="#151515" font-weight="normal" stroke="#151515" stroke-width="0.3" letter-spacing="3">1-1</text>
<line x1="226.6" y1="477.4" x2="282" y2="477.4" stroke="#151515" stroke-width="1.7"/>
<line x1="367.3" y1="459" x2="367.3" y2="474.5" stroke="#151515" stroke-width="1.6"/>
<line x1="367.3" y1="473.7" x2="383.5" y2="473.7" stroke="#151515" stroke-width="1.6"/>
<polygon points="381.5,471.5 381.5,475.9 388.5,473.7" fill="#151515" stroke="#151515" stroke-width="0.5" stroke-linejoin="round"/>
<text x="377.6" y="469" font-size="15.29" textLength="7.75" lengthAdjust="spacingAndGlyphs" fill="#151515" font-weight="normal" stroke="#151515" stroke-width="0.45">2</text>
<line x1="73.3" y1="504.3" x2="463.6" y2="503.6" stroke="#151515" stroke-width="1.6"/>
<line x1="73.3" y1="504.3" x2="73.3" y2="521" stroke="#151515" stroke-width="1.5"/>
<polyline points="73.3,520.4 91.1,520.4" fill="none" stroke="#151515" stroke-width="1.5" stroke-linejoin="round"/>
<polyline points="97.2,520.4 102.4,525.9 299.7,526.5" fill="none" stroke="#151515" stroke-width="1.5" stroke-linejoin="round"/>
<line x1="299.7" y1="526.8" x2="303.5" y2="525.2" stroke="#151515" stroke-width="1.2"/>
<polyline points="303.5,525.2 457.7,525.4 457.7,520.6 460.6,517.7 463.5,516.3 463.5,503.9" fill="none" stroke="#151515" stroke-width="1.5" stroke-linejoin="round"/>
<line x1="301.3" y1="511.5" x2="393.8" y2="511.5" stroke="#151515" stroke-width="1"/>
<line x1="306.8" y1="506.1" x2="356.8" y2="506.1" stroke="#151515" stroke-width="0.9"/>
<line x1="356.8" y1="506.1" x2="360" y2="511.3" stroke="#151515" stroke-width="0.9"/>
<line x1="299.7" y1="511" x2="303.5" y2="526.8" stroke="#151515" stroke-width="1"/>
<line x1="353" y1="511" x2="351" y2="525" stroke="#151515" stroke-width="1"/>
<line x1="396.7" y1="511" x2="399" y2="525" stroke="#151515" stroke-width="1"/>
<polyline points="124.5,509 126.5,507.5 127,510.5 127,522.5" fill="none" stroke="#151515" stroke-width="2" stroke-linejoin="round"/>
<circle cx="126.5" cy="522.5" r="1.5" fill="#151515"/>
<polyline points="179.6,509 181.6,507.5 182.1,510.5 182.1,522.5" fill="none" stroke="#151515" stroke-width="2" stroke-linejoin="round"/>
<circle cx="181.6" cy="522.5" r="1.5" fill="#151515"/>
<polyline points="241,509 243,507.5 243.5,510.5 243.5,522.5" fill="none" stroke="#151515" stroke-width="2" stroke-linejoin="round"/>
<circle cx="243" cy="522.5" r="1.5" fill="#151515"/>
<polyline points="443.8,509 445.8,507.5 446.3,510.5 446.3,522.5" fill="none" stroke="#151515" stroke-width="2" stroke-linejoin="round"/>
<circle cx="445.8" cy="522.5" r="1.5" fill="#151515"/>
<polyline points="295,507.5 303,507.5" fill="none" stroke="#151515" stroke-width="1.8" stroke-linejoin="round"/>
<line x1="298.5" y1="507.5" x2="298.5" y2="523.5" stroke="#151515" stroke-width="2.2"/>
<polyline points="401,507.5 410,507.5" fill="none" stroke="#151515" stroke-width="2" stroke-linejoin="round"/>
<line x1="403" y1="507.5" x2="404.5" y2="522.5" stroke="#151515" stroke-width="2.2"/>
<polyline points="86.3,508.3 76.2,508.3 76.2,517.4 86.3,517.4" fill="none" stroke="#151515" stroke-width="2" stroke-linejoin="round"/>
<line x1="79" y1="512.8" x2="83" y2="512.8" stroke="#151515" stroke-width="1.6"/>
<circle cx="84.5" cy="516" r="1.3" fill="#151515"/>
<line x1="93.7" y1="508.9" x2="101.5" y2="508.9" stroke="#151515" stroke-width="2"/>
<line x1="93.7" y1="517.2" x2="101.5" y2="517.2" stroke="#151515" stroke-width="2"/>
<circle cx="100.5" cy="513" r="1.2" fill="#151515"/>
<line x1="109.3" y1="507.2" x2="109.3" y2="523.7" stroke="#151515" stroke-width="1.8"/>
<line x1="106.7" y1="509" x2="113.3" y2="509" stroke="#151515" stroke-width="1.8"/>
<circle cx="109.3" cy="521.5" r="1.5" fill="#151515"/>
<circle cx="109.3" cy="514" r="1.2" fill="#151515"/>
<polyline points="91.5,520.4 91.8,524.5 94,526 96,524.5 96.3,520.4" fill="none" stroke="#151515" stroke-width="1.4" stroke-linejoin="round"/>
<text x="317.6" y="492.89" font-size="11.35" textLength="74.86" lengthAdjust="spacingAndGlyphs" fill="#151515" font-weight="normal" stroke="#151515" stroke-width="0.45" letter-spacing="1">АБНТ 1-65-1б</text>
<polyline points="303.5,505 317.6,494.8 387.3,494.8 392.7,504" fill="none" stroke="#151515" stroke-width="0.9" stroke-linejoin="round"/>
<ellipse cx="426" cy="480.3" rx="16.7" ry="16.2" fill="none" stroke="#151515" stroke-width="1.1"/>
<line x1="404" y1="481.3" x2="444.3" y2="481.3" stroke="#151515" stroke-width="1.3"/>
<text x="420" y="479.26" font-size="13.66" textLength="13.53" lengthAdjust="spacingAndGlyphs" fill="#151515" font-weight="normal" stroke="#151515" stroke-width="0.3">23</text>
<text x="421.3" y="493.56" font-size="13.66" textLength="12.62" lengthAdjust="spacingAndGlyphs" fill="#151515" font-weight="normal" stroke="#151515" stroke-width="0.3">23</text>
<line x1="404" y1="481.3" x2="397.2" y2="504.3" stroke="#151515" stroke-width="0.9"/>
<text x="80.2" y="537.5" font-size="10.42" textLength="18.28" lengthAdjust="spacingAndGlyphs" fill="#151515" font-weight="normal" stroke="#151515" stroke-width="0.45">340</text>
<text x="105" y="537.5" font-size="10.42" textLength="14.78" lengthAdjust="spacingAndGlyphs" fill="#151515" font-weight="normal" stroke="#151515" stroke-width="0.45">120</text>
<line x1="66.2" y1="542.6" x2="117.7" y2="542.6" stroke="#3a3a3a" stroke-width="0.8"/>
<line x1="71.5" y1="540.8" x2="75.1" y2="544.4" stroke="#151515" stroke-width="1.2"/>
<line x1="100.2" y1="540.8" x2="103.8" y2="544.4" stroke="#151515" stroke-width="1.2"/>
<line x1="108.2" y1="540.8" x2="111.8" y2="544.4" stroke="#151515" stroke-width="1.2"/>
<line x1="102" y1="529" x2="102" y2="546" stroke="#3a3a3a" stroke-width="0.8"/>
<line x1="110" y1="539.5" x2="110" y2="546" stroke="#3a3a3a" stroke-width="0.8"/>
<text x="371.5" y="543.09" font-size="10.7" textLength="18.88" lengthAdjust="spacingAndGlyphs" fill="#151515" font-weight="normal" stroke="#151515" stroke-width="0.45">720</text>
<line x1="353.9" y1="544" x2="399.5" y2="544" stroke="#3a3a3a" stroke-width="0.8"/>
<line x1="354.6" y1="542.2" x2="358.2" y2="545.8" stroke="#151515" stroke-width="1.2"/>
<line x1="393.1" y1="542.2" x2="396.7" y2="545.8" stroke="#151515" stroke-width="1.2"/>
<line x1="356.4" y1="523" x2="356.4" y2="546" stroke="#3a3a3a" stroke-width="0.8"/>
<text x="445.5" y="534.39" font-size="10.85" textLength="11.99" lengthAdjust="spacingAndGlyphs" fill="#151515" font-weight="normal" stroke="#151515" stroke-width="0.45">165</text>
<text x="468.7" y="534.41" font-size="9.44" textLength="11.02" lengthAdjust="spacingAndGlyphs" fill="#151515" font-weight="normal" stroke="#151515" stroke-width="0.45">90</text>
<line x1="437.2" y1="537.3" x2="479.2" y2="537.3" stroke="#3a3a3a" stroke-width="0.8"/>
<line x1="442.8" y1="535.8" x2="445.8" y2="538.8" stroke="#151515" stroke-width="1.6"/>
<line x1="456.7" y1="535.8" x2="459.7" y2="538.8" stroke="#151515" stroke-width="1.6"/>
<line x1="462" y1="535.8" x2="465" y2="538.8" stroke="#151515" stroke-width="1.6"/>
<line x1="444.3" y1="524" x2="444.3" y2="545" stroke="#3a3a3a" stroke-width="0.8"/>
<line x1="458.2" y1="521" x2="458.2" y2="541.6" stroke="#3a3a3a" stroke-width="0.8"/>
<text transform="translate(477.66 523) rotate(-90)" x="-0" y="0" font-size="13.52" textLength="12.42" lengthAdjust="spacingAndGlyphs" fill="#151515" font-weight="normal" stroke="#151515" stroke-width="0.45">40</text>
<line x1="479.2" y1="497.2" x2="479.2" y2="525.4" stroke="#3a3a3a" stroke-width="0.8"/>
<line x1="463.5" y1="503.9" x2="483.5" y2="503.9" stroke="#3a3a3a" stroke-width="0.8"/>
<line x1="451" y1="509.6" x2="482.1" y2="509.6" stroke="#3a3a3a" stroke-width="0.8"/>
<line x1="477.7" y1="502.4" x2="480.7" y2="505.4" stroke="#151515" stroke-width="1.6"/>
<line x1="477.7" y1="508.1" x2="480.7" y2="511.1" stroke="#151515" stroke-width="1.6"/>
<line x1="64" y1="564" x2="474" y2="563.6" stroke="#3a3a3a" stroke-width="0.8"/>
<line x1="71.3" y1="561.8" x2="75.3" y2="565.8" stroke="#151515" stroke-width="1.2"/>
<line x1="301" y1="561.8" x2="305" y2="565.8" stroke="#151515" stroke-width="1.2"/>
<line x1="392.9" y1="561.8" x2="396.9" y2="565.8" stroke="#151515" stroke-width="1.2"/>
<line x1="461.6" y1="561.8" x2="465.6" y2="565.8" stroke="#151515" stroke-width="1.2"/>
<text x="193" y="561.19" font-size="10.99" textLength="26.85" lengthAdjust="spacingAndGlyphs" fill="#151515" font-weight="normal" stroke="#151515" stroke-width="0.45">3815</text>
<text x="337.5" y="561.99" font-size="10.99" textLength="21.44" lengthAdjust="spacingAndGlyphs" fill="#151515" font-weight="normal" stroke="#151515" stroke-width="0.45">1610</text>
<text x="421.2" y="560.29" font-size="11.27" textLength="21.84" lengthAdjust="spacingAndGlyphs" fill="#151515" font-weight="normal" stroke="#151515" stroke-width="0.45">1070</text>
<line x1="73.3" y1="521" x2="73.3" y2="575" stroke="#3a3a3a" stroke-width="0.8"/>
<line x1="303" y1="530.6" x2="303" y2="567" stroke="#3a3a3a" stroke-width="0.8"/>
<line x1="394.9" y1="505.4" x2="394.9" y2="567.3" stroke="#3a3a3a" stroke-width="0.8"/>
<line x1="463.6" y1="517" x2="463.6" y2="569.5" stroke="#3a3a3a" stroke-width="0.8"/>
<line x1="792" y1="568" x2="795.5" y2="568" stroke="#999" stroke-width="1"/>
<line x1="800" y1="568" x2="803.5" y2="568" stroke="#999" stroke-width="1"/>
<line x1="808" y1="568" x2="811.5" y2="568" stroke="#999" stroke-width="1"/>
<line x1="815" y1="568" x2="818.5" y2="568" stroke="#999" stroke-width="1"/>
<line x1="822" y1="568" x2="825.5" y2="568" stroke="#999" stroke-width="1"/>
<line x1="830" y1="568" x2="833.5" y2="568" stroke="#999" stroke-width="1"/>
<line x1="845" y1="568" x2="848.5" y2="568" stroke="#999" stroke-width="1"/>
<line x1="852" y1="568" x2="855.5" y2="568" stroke="#999" stroke-width="1"/>
<line x1="860" y1="568" x2="863.5" y2="568" stroke="#999" stroke-width="1"/>
<line x1="870" y1="568" x2="873.5" y2="568" stroke="#999" stroke-width="1"/>
</svg>
</body></html>
